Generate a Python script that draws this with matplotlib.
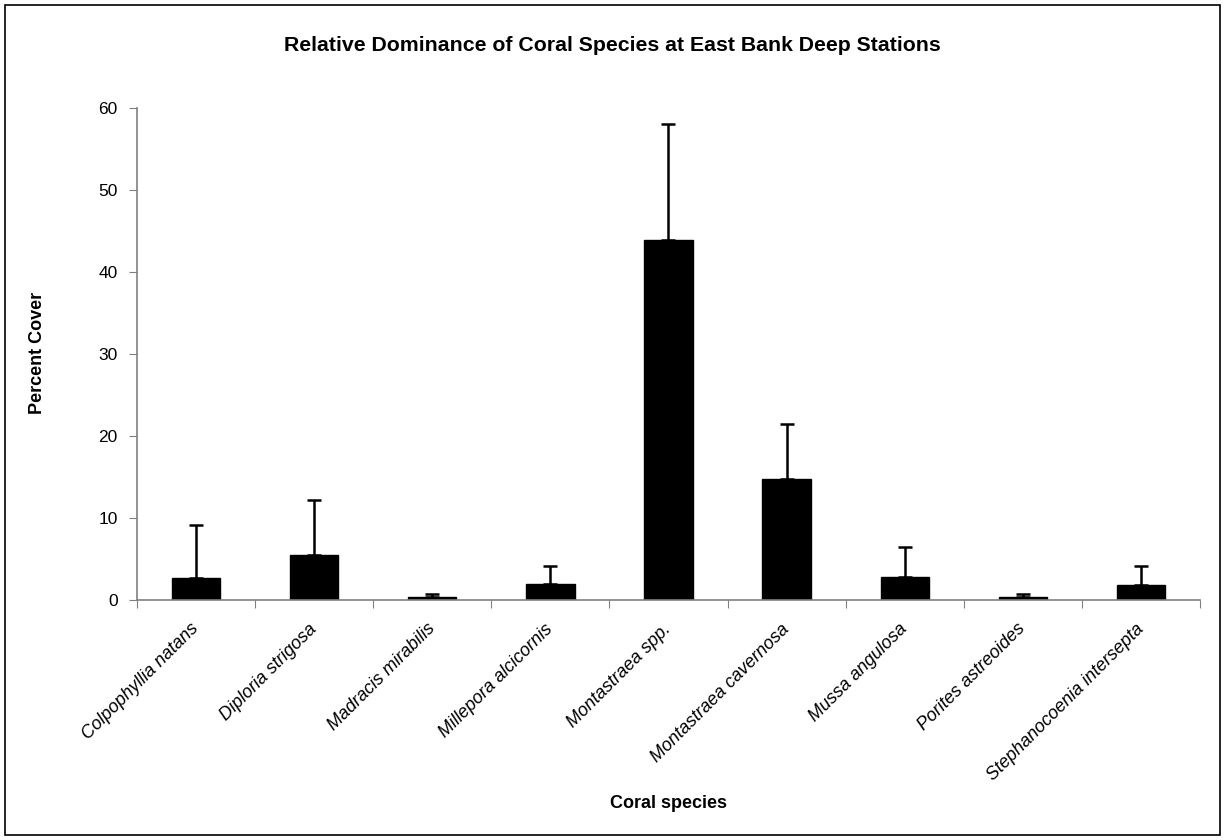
import matplotlib
matplotlib.use("Agg")
import matplotlib.pyplot as plt
from matplotlib.patches import Rectangle

species = ["Colpophyllia natans", "Diploria strigosa", "Madracis mirabilis",
           "Millepora alcicornis", "Montastraea spp.", "Montastraea cavernosa",
           "Mussa angulosa", "Porites astreoides", "Stephanocoenia intersepta"]
cover = [2.7, 5.5, 0.37, 2.0, 43.9, 14.8, 2.8, 0.37, 1.85]
err = [6.45, 6.7, 0.38, 2.1, 14.1, 6.7, 3.65, 0.38, 2.3]
yticks = [0, 10, 20, 30, 40, 50, 60]

plt.rcParams['font.family'] = ['Liberation Sans', 'DejaVu Sans']

fig = plt.figure(figsize=(12.25, 8.4), dpi=100)
fig.patches.append(Rectangle((0.004, 0.006), 0.992, 0.988, transform=fig.transFigure,
                             fill=False, edgecolor='black', linewidth=1.2))
ax = fig.add_axes([0.1118, 0.2857, 0.8678, 0.5857])
x = list(range(len(species)))
ax.bar(x, cover, width=0.41, color='black', edgecolor='black')
ax.errorbar(x, cover, yerr=[[0]*len(err), err], fmt='none', ecolor='black',
            elinewidth=1.8, capsize=5, capthick=1.8)
ax.set_xlim(-0.5, len(species) - 0.5)
ax.set_ylim(0, 60)
ax.set_yticks(yticks)
ax.set_yticklabels([str(v) for v in yticks], fontsize=12.5)
ax.set_xticks([i - 0.5 for i in range(len(species) + 1)], minor=False)
ax.set_xticklabels([])
ax.set_xticks(x, minor=True)
ax.set_xticklabels(species, minor=True, rotation=45, ha='right', va='center',
                   rotation_mode='anchor', fontsize=13, style='italic')
ax.tick_params(axis='x', which='minor', length=0, pad=19)
ax.tick_params(axis='x', which='major', length=6, color='#808080', direction='out')
ax.tick_params(axis='y', length=6, color='#808080', direction='out', pad=8)
for s in ['top', 'right']:
    ax.spines[s].set_visible(False)
for s in ['left', 'bottom']:
    ax.spines[s].set_color('#808080')
    ax.spines[s].set_linewidth(1.2)
fig.text(0.031, 0.58, 'Percent Cover', fontsize=13, fontweight='bold', ha='center',
         va='center', rotation=90)
fig.text(0.546, 0.044, 'Coral species', fontsize=13, fontweight='bold', ha='center', va='center')
fig.text(0.4996, 0.946, 'Relative Dominance of Coral Species at East Bank Deep Stations',
         fontsize=15.3, fontweight='bold', ha='center', va='center')
fig.savefig('out.png', dpi=100)
